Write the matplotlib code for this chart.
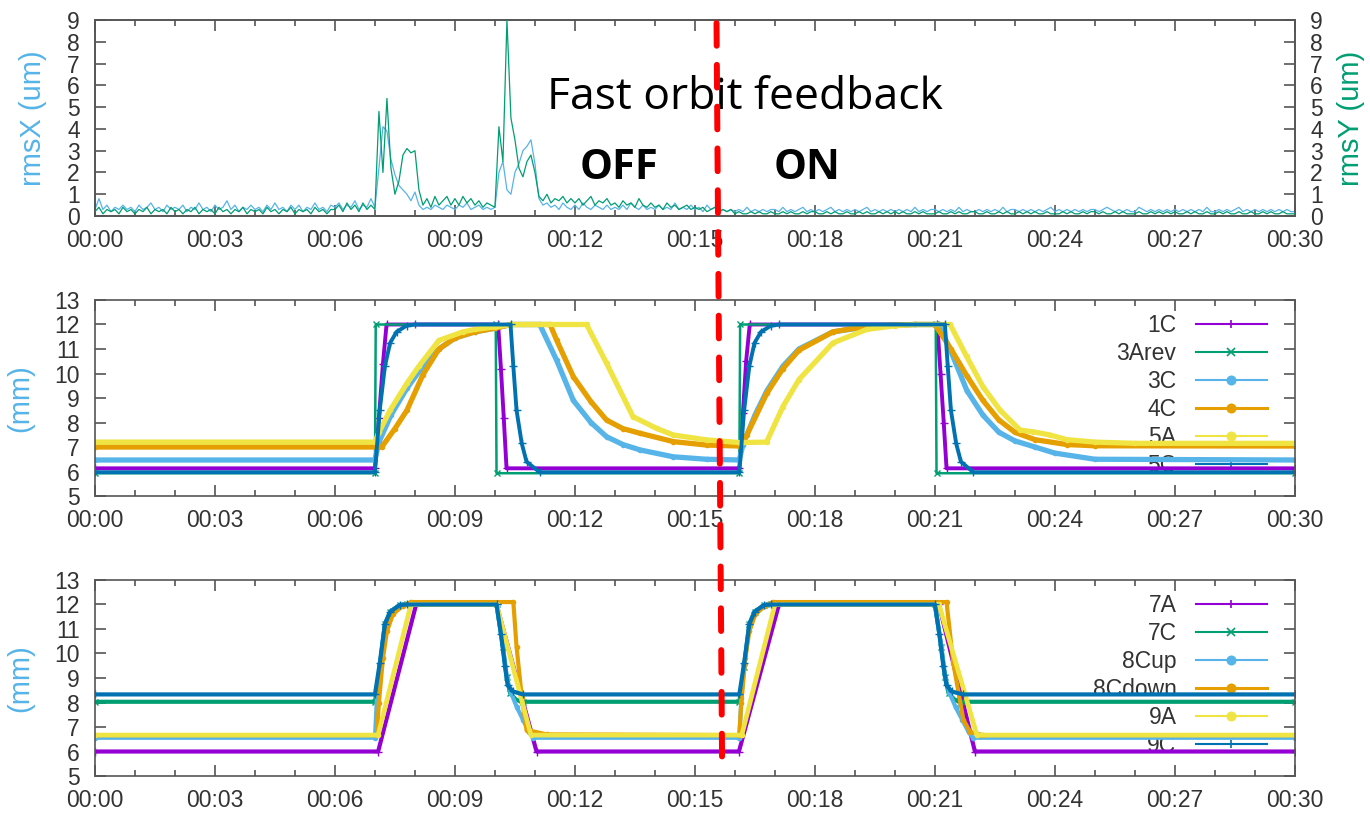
import matplotlib
matplotlib.use("Agg")
import matplotlib.pyplot as plt
from matplotlib.lines import Line2D
from matplotlib.patches import ConnectionPatch
from matplotlib.ticker import MultipleLocator, FuncFormatter

plt.rcParams["font.family"] = ["Liberation Sans", "DejaVu Sans"]

# --- beam position rms (um), sampled every 0.1 min ---
RMS_DT = 0.1
RMS_X = [
    0.3, 0.8, 0.3, 0.5, 0.2, 0.4, 0.3, 0.5, 0.3, 0.4,
    0.2, 0.5, 0.3, 0.4, 0.6, 0.3, 0.4, 0.2, 0.5, 0.3,
    0.4, 0.3, 0.5, 0.2, 0.4, 0.3, 0.6, 0.3, 0.4, 0.2,
    0.5, 0.3, 0.4, 0.7, 0.3, 0.5, 0.2, 0.4, 0.3, 0.5,
    0.3, 0.4, 0.2, 0.5, 0.3, 0.6, 0.3, 0.4, 0.2, 0.5,
    0.3, 0.5, 0.2, 0.4, 0.3, 0.6, 0.3, 0.4, 0.2, 0.5,
    0.4, 0.6, 0.3, 0.5, 0.4, 0.7, 0.3, 0.5, 0.4, 0.8,
    0.4, 2.2, 4.1, 3.9, 2.6, 1.9, 1.4, 1.2, 1.0, 0.7,
    1.1, 0.5, 0.3, 0.4, 0.3, 0.5, 0.4, 0.3, 0.5, 0.4,
    0.3, 0.5, 0.4, 0.6, 0.3, 0.4, 0.5, 0.3, 0.4, 0.3,
    0.4, 2.0, 2.5, 1.2, 1.0, 2.0, 2.4, 3.0, 3.2, 3.5,
    2.4, 0.8, 0.5, 0.6, 0.4, 0.5, 0.3, 0.6, 0.4, 0.3,
    0.5, 0.3, 0.6, 0.4, 0.3, 0.5, 0.4, 0.3, 0.5, 0.3,
    0.4, 0.3, 0.5, 0.3, 0.6, 0.4, 0.3, 0.5, 0.3, 0.4,
    0.3, 0.5, 0.3, 0.4, 0.3, 0.6, 0.3, 0.4, 0.3, 0.5,
    0.3, 0.4, 0.2, 0.5, 0.3, 0.4, 0.2, 0.3, 0.2, 0.3,
    0.2, 0.3, 0.2, 0.4, 0.2, 0.3, 0.2, 0.3, 0.2, 0.3,
    0.3, 0.2, 0.4, 0.2, 0.3, 0.2, 0.3, 0.4, 0.2, 0.3,
    0.2, 0.3, 0.2, 0.3, 0.4, 0.2, 0.3, 0.2, 0.3, 0.2,
    0.3, 0.2, 0.3, 0.4, 0.2, 0.3, 0.2, 0.3, 0.2, 0.3,
    0.2, 0.3, 0.2, 0.3, 0.2, 0.4, 0.2, 0.3, 0.2, 0.3,
    0.3, 0.2, 0.3, 0.2, 0.3, 0.2, 0.4, 0.2, 0.3, 0.2,
    0.2, 0.3, 0.2, 0.3, 0.2, 0.3, 0.2, 0.4, 0.2, 0.3,
    0.3, 0.2, 0.3, 0.2, 0.3, 0.2, 0.3, 0.2, 0.3, 0.4,
    0.2, 0.3, 0.2, 0.3, 0.2, 0.3, 0.2, 0.3, 0.2, 0.3,
    0.3, 0.2, 0.3, 0.4, 0.3, 0.2, 0.3, 0.2, 0.3, 0.2,
    0.2, 0.4, 0.3, 0.2, 0.3, 0.2, 0.3, 0.2, 0.3, 0.2,
    0.3, 0.2, 0.3, 0.2, 0.3, 0.2, 0.3, 0.2, 0.4, 0.2,
    0.2, 0.3, 0.2, 0.3, 0.2, 0.3, 0.4, 0.2, 0.3, 0.2,
    0.3, 0.2, 0.3, 0.2, 0.3, 0.2, 0.3, 0.2, 0.3, 0.2,
    0.2,
]
RMS_Y = [
    0.2, 0.4, 0.1, 0.3, 0.2, 0.3, 0.1, 0.4, 0.2, 0.3,
    0.1, 0.3, 0.2, 0.4, 0.1, 0.3, 0.2, 0.3, 0.1, 0.4,
    0.2, 0.3, 0.1, 0.3, 0.2, 0.4, 0.1, 0.3, 0.2, 0.3,
    0.1, 0.4, 0.2, 0.3, 0.1, 0.3, 0.2, 0.4, 0.1, 0.3,
    0.2, 0.3, 0.1, 0.4, 0.2, 0.3, 0.1, 0.3, 0.2, 0.4,
    0.1, 0.3, 0.2, 0.3, 0.1, 0.4, 0.2, 0.3, 0.1, 0.3,
    0.3, 0.5, 0.2, 0.6, 0.3, 0.5, 0.2, 0.6, 0.3, 0.5,
    0.3, 4.8, 2.0, 5.4, 2.2, 1.0, 1.6, 2.8, 3.1, 2.9,
    3.0, 1.2, 0.5, 0.8, 0.4, 0.9, 0.5, 0.7, 0.9, 0.5,
    0.8, 0.5, 0.9, 0.6, 0.8, 0.5, 0.7, 0.4, 0.6, 0.5,
    0.4, 4.1, 2.5, 9.0, 4.5, 3.5, 2.2, 1.8, 2.5, 2.8,
    2.0, 0.9, 0.7, 1.0, 0.6, 0.8, 0.7, 0.9, 0.6, 0.8,
    0.6, 0.8, 0.5, 0.7, 0.9, 0.5, 0.7, 0.6, 0.8, 0.5,
    0.6, 0.4, 0.7, 0.5, 0.6, 0.4, 0.8, 0.5, 0.4, 0.6,
    0.4, 0.5, 0.3, 0.6, 0.4, 0.5, 0.3, 0.4, 0.5, 0.3,
    0.4, 0.3, 0.4, 0.2, 0.3, 0.4, 0.2, 0.3, 0.2, 0.3,
    0.1, 0.2, 0.1, 0.1, 0.2, 0.1, 0.2, 0.1, 0.1, 0.2,
    0.1, 0.1, 0.2, 0.1, 0.2, 0.1, 0.1, 0.2, 0.1, 0.2,
    0.2, 0.1, 0.1, 0.2, 0.1, 0.2, 0.1, 0.1, 0.2, 0.1,
    0.1, 0.2, 0.1, 0.2, 0.1, 0.1, 0.2, 0.1, 0.2, 0.1,
    0.2, 0.1, 0.2, 0.1, 0.1, 0.2, 0.1, 0.2, 0.1, 0.1,
    0.1, 0.2, 0.1, 0.1, 0.2, 0.1, 0.2, 0.1, 0.1, 0.2,
    0.2, 0.1, 0.1, 0.2, 0.1, 0.1, 0.2, 0.1, 0.2, 0.1,
    0.1, 0.2, 0.1, 0.2, 0.1, 0.2, 0.1, 0.1, 0.2, 0.1,
    0.1, 0.1, 0.2, 0.1, 0.2, 0.1, 0.1, 0.2, 0.1, 0.2,
    0.2, 0.1, 0.2, 0.1, 0.1, 0.2, 0.1, 0.2, 0.1, 0.1,
    0.1, 0.2, 0.1, 0.1, 0.2, 0.1, 0.2, 0.1, 0.2, 0.1,
    0.2, 0.1, 0.1, 0.2, 0.1, 0.2, 0.1, 0.1, 0.2, 0.1,
    0.1, 0.2, 0.1, 0.2, 0.1, 0.1, 0.2, 0.1, 0.1, 0.2,
    0.1, 0.1, 0.2, 0.1, 0.2, 0.1, 0.1, 0.2, 0.1, 0.1,
    0.1,
]

# --- gap positions (mm), upstream group: time (min) / value ---
T_1C = [0, 7.0, 7.1, 7.2, 7.29, 10.08, 10.15, 10.22, 10.29, 16.11, 16.2, 16.28, 16.37,
        21.06, 21.14, 21.22, 21.29, 30]
V_1C = [6.13, 6.13, 8.2, 10.4, 12.0, 12.0, 10.2, 8.2, 6.13, 6.13, 8.4, 10.5, 12.0,
        12.0, 10.0, 8.0, 6.13, 6.13]
T_3AREV = [0, 7.0, 7.02, 10.02, 10.04, 16.11, 16.13, 21.02, 21.04, 30]
V_3AREV = [5.93, 5.93, 12.0, 12.0, 5.93, 5.93, 12.0, 12.0, 5.93, 5.93]
T_3C = [0, 7.0, 7.1, 7.4, 7.8, 8.2, 8.6, 9.0, 9.5, 10.0, 10.4, 11.12, 11.54, 11.96, 12.4,
        12.79, 13.2, 13.63, 14.46, 15.29, 16.11, 16.2, 16.5, 16.8, 17.2, 17.6, 18.45, 19.5,
        20.5, 21.1, 21.4, 21.8, 22.2, 22.6, 23.0, 23.5, 24.0, 25.0, 30]
V_3C = [6.47, 6.47, 7.2, 8.3, 9.4, 10.3, 11.0, 11.45, 11.7, 11.85, 12.0, 12.0, 10.55, 8.9,
        8.0, 7.42, 7.1, 6.88, 6.6, 6.5, 6.47, 7.1, 8.3, 9.3, 10.3, 11.0, 11.7, 11.95, 12.0,
        12.0, 10.9, 9.3, 8.3, 7.6, 7.25, 7.0, 6.75, 6.5, 6.47]
T_4C = [0, 7.17, 7.5, 7.8, 8.2, 8.6, 9.0, 9.5, 10.0, 10.4, 11.38, 11.54, 11.96, 12.4, 12.79,
        13.2, 13.63, 14.46, 15.29, 16.11, 16.3, 16.8, 17.2, 17.6, 18.45, 19.0, 19.5, 20.5,
        21.0, 21.4, 21.8, 22.2, 22.6, 23.0, 23.5, 24.3, 25.0, 30]
V_4C = [7.0, 7.0, 7.75, 8.5, 9.95, 11.0, 11.45, 11.7, 11.85, 12.0, 12.0, 11.37, 9.87, 8.85,
        8.1, 7.75, 7.56, 7.22, 7.08, 7.04, 7.5, 9.2, 10.2, 10.95, 11.7, 11.85, 11.95, 12.0,
        12.0, 11.0, 9.9, 8.9, 8.1, 7.6, 7.3, 7.1, 7.05, 7.04]
T_5A = [0, 7.0, 7.1, 7.38, 7.8, 8.1, 8.6, 9.2, 9.5, 10.0, 10.45, 12.29, 12.79, 13.45, 14.04,
        14.46, 15.29, 16.13, 16.79, 17.2, 17.6, 18.45, 19.3, 20.0, 20.5, 21.38, 21.79, 22.2,
        22.63, 23.13, 23.46, 23.88, 24.3, 25.0, 26.0, 30]
V_5A = [7.2, 7.2, 7.6, 8.5, 9.6, 10.3, 11.35, 11.7, 11.8, 11.9, 12.0, 12.0, 10.42, 8.24,
        7.76, 7.49, 7.29, 7.18, 7.2, 8.65, 9.75, 11.25, 11.8, 11.95, 12.0, 12.0, 10.7, 9.46,
        8.5, 7.69, 7.62, 7.49, 7.3, 7.2, 7.15, 7.15]
T_5C = [0, 7.0, 7.12, 7.25, 7.38, 7.54, 7.79, 8.0, 10.39, 10.46, 10.54, 10.67, 10.79, 11.12,
        16.11, 16.23, 16.36, 16.49, 16.65, 16.9, 17.1, 21.25, 21.32, 21.4, 21.53, 21.65,
        21.96, 30]
V_5C = [5.97, 5.97, 8.5, 10.3, 11.25, 11.7, 11.95, 12.0, 12.0, 10.3, 8.5, 7.15, 6.4, 5.97,
        5.97, 8.5, 10.3, 11.25, 11.7, 11.95, 12.0, 12.0, 10.3, 8.5, 7.15, 6.4, 5.97, 5.97]

# --- gap positions (mm), downstream group ---
T_7A = [0, 7.08, 8.03, 10.04, 11.04, 16.1, 17.1, 21.1, 22.0, 30]
V_7A = [6.0, 6.0, 12.0, 12.0, 6.0, 6.0, 12.0, 12.0, 6.0, 6.0]
T_7C = [0, 7.0, 7.12, 7.25, 7.38, 7.62, 7.8, 10.04, 10.2, 10.29, 10.38, 10.54, 10.7, 16.11,
        16.23, 16.36, 16.49, 16.73, 16.9, 21.0, 21.16, 21.25, 21.34, 21.5, 21.66, 30]
V_7C = [8.03, 8.03, 9.46, 11.2, 11.7, 11.98, 12.0, 12.0, 10.28, 9.05, 8.38, 8.1, 8.03, 8.03,
        9.46, 11.2, 11.7, 11.98, 12.0, 12.0, 10.28, 9.05, 8.38, 8.1, 8.03, 8.03]
T_8CUP = [0, 7.0, 7.05, 7.12, 7.25, 7.38, 7.62, 7.8, 10.04, 10.2, 10.3, 10.4, 10.55, 10.7,
          10.85, 10.96, 16.11, 16.16, 16.23, 16.36, 16.49, 16.73, 16.9, 21.0, 21.16, 21.26,
          21.36, 21.52, 21.68, 21.84, 21.95, 30]
V_8CUP = [6.56, 6.56, 8.2, 9.5, 11.2, 11.7, 11.98, 12.0, 12.0, 10.3, 9.0, 8.4, 7.8, 7.3,
          6.8, 6.56, 6.56, 8.2, 9.5, 11.2, 11.7, 11.98, 12.0, 12.0, 10.3, 9.0, 8.4, 7.8,
          7.3, 6.8, 6.56, 6.56]
T_8CDOWN = [0, 7.05, 7.1, 7.2, 7.3, 7.45, 7.7, 7.9, 10.46, 10.54, 10.67, 10.79, 11.29,
            16.11, 16.16, 16.26, 16.36, 16.51, 16.76, 16.96, 21.29, 21.46, 21.71, 21.88,
            22.2, 30]
V_8CDOWN = [6.67, 6.67, 8.0, 9.8, 10.9, 11.6, 11.95, 12.1, 12.1, 10.28, 8.24, 6.88, 6.7,
            6.67, 8.0, 9.8, 10.9, 11.6, 11.95, 12.1, 12.1, 9.6, 7.3, 6.8, 6.67, 6.67]
T_9A = [0, 7.08, 7.9, 10.04, 10.9, 16.17, 17.0, 21.1, 22.05, 30]
V_9A = [6.67, 6.67, 12.0, 12.0, 6.67, 6.67, 12.0, 12.0, 6.67, 6.67]
T_9C = [0, 7.0, 7.12, 7.25, 7.38, 7.62, 7.8, 10.04, 10.15, 10.25, 10.32, 10.45, 10.7, 16.11,
        16.23, 16.36, 16.49, 16.73, 16.9, 21.0, 21.11, 21.21, 21.29, 21.42, 21.7, 30]
V_9C = [8.33, 8.33, 9.6, 11.2, 11.7, 11.98, 12.0, 12.0, 10.8, 9.5, 8.7, 8.45, 8.33, 8.33,
        9.6, 11.2, 11.7, 11.98, 12.0, 12.0, 10.8, 9.5, 8.7, 8.45, 8.33, 8.33]

# feedback switch marker: (time, value) at top panel and bottom panel ends
FOFB_TOP = (15.54, 8.86)
FOFB_BOTTOM = (15.68, 5.33)

PURPLE = "#9400d3"
GREEN = "#009e73"
SKY = "#56b4e9"
ORANGE = "#e69f00"
YELLOW = "#f0e442"
BLUE = "#0072b2"
TICK_COLOR = "#333333"
FRAME_COLOR = "#555555"
NOTE_FONT = ["Open Sans", "Noto Sans", "DejaVu Sans"]


def fmt_time(v, _pos):
    m = int(round(v))
    return f"{m // 60:02d}:{m % 60:02d}"


def style_axis(ax, ymin, ymax):
    ax.set_xlim(0, 30)
    ax.set_ylim(ymin, ymax)
    ax.xaxis.set_major_locator(MultipleLocator(3))
    ax.xaxis.set_minor_locator(MultipleLocator(1))
    ax.yaxis.set_major_locator(MultipleLocator(1))
    ax.xaxis.set_major_formatter(FuncFormatter(fmt_time))
    ax.tick_params(which="both", direction="in", top=True, right=True,
                   colors=FRAME_COLOR, labelcolor=TICK_COLOR, labelsize=16.5, width=1.2)
    ax.tick_params(which="major", length=8)
    ax.tick_params(which="minor", length=4)
    ax.tick_params(axis="x", pad=9)
    ax.tick_params(axis="y", pad=11)
    for sp in ax.spines.values():
        sp.set_color(FRAME_COLOR)
        sp.set_linewidth(1.2)


def legend_handle(color, marker, lw=1.5, ms=6):
    return Line2D([], [], color=color, lw=lw, marker=marker, ms=ms, mew=1.2)


def add_legend(ax, handles, labels):
    leg = ax.legend(handles, labels, loc="upper right", bbox_to_anchor=(0.9767, 0.93),
                    frameon=False, markerfirst=False, handlelength=3.1, handletextpad=0.85,
                    labelspacing=0.22, borderpad=0, borderaxespad=0, fontsize=16.5,
                    numpoints=1)
    for txt in leg.get_texts():
        txt.set_color(TICK_COLOR)
    leg.set_zorder(1)
    return leg


fig = plt.figure(figsize=(13.7, 8.13), dpi=100)
fig.patch.set_facecolor("white")

ax1 = fig.add_axes([0.0693, 0.7343, 0.8759, 0.2411])
ax2 = fig.add_axes([0.0693, 0.3899, 0.8759, 0.2411])
ax3 = fig.add_axes([0.0693, 0.0455, 0.8759, 0.2411])

# top: rms orbit motion
rms_t = [i * RMS_DT for i in range(len(RMS_X))]
ax1.plot(rms_t, RMS_X, color=SKY, lw=0.9, zorder=2)
ax1r = ax1.twinx()
ax1r.plot(rms_t, RMS_Y, color=GREEN, lw=0.9, zorder=3)
style_axis(ax1, 0, 9)
style_axis(ax1r, 0, 9)
ax1.tick_params(right=False)
ax1r.tick_params(left=False, top=False, bottom=False, labelbottom=False)
ax1.set_ylabel("rmsX (um)", color=SKY, fontsize=21, labelpad=14)
ax1r.set_ylabel("rmsY (um)", color=GREEN, fontsize=21, labelpad=10)

ax1r.text(16.25, 5.45, "Fast orbit feedback", ha="center", va="center",
          fontsize=32, family=NOTE_FONT, color="black", zorder=5)
ax1r.text(13.1, 2.2, "OFF", ha="center", va="center", fontsize=30, fontweight="bold",
          family=NOTE_FONT, color="black", zorder=5)
ax1r.text(17.8, 2.2, "ON", ha="center", va="center", fontsize=30, fontweight="bold",
          family=NOTE_FONT, color="black", zorder=5)

# middle: upstream gaps
mid_series = [
    ("1C", T_1C, V_1C, PURPLE, "+", 2.8, 6),
    ("3Arev", T_3AREV, V_3AREV, GREEN, "x", 1.8, 4),
    ("3C", T_3C, V_3C, SKY, "o", 3.8, 3),
    ("4C", T_4C, V_4C, ORANGE, "o", 3.8, 3),
    ("5A", T_5A, V_5A, YELLOW, "o", 3.8, 3),
    ("5C", T_5C, V_5C, BLUE, "+", 2.8, 6),
]
for label, t, v, c, mk, lw, ms in mid_series:
    ax2.plot(t, v, color=c, lw=lw, marker=mk, ms=ms, mew=1.0, zorder=2)
style_axis(ax2, 5, 13)
ax2.set_ylabel("(mm)", color=SKY, fontsize=21, labelpad=14)
add_legend(ax2, [legend_handle(c, mk, lw=2.2 if label == "4C" else 1.5)
                 for label, _, _, c, mk, _, _ in mid_series],
           [s[0] for s in mid_series])

# bottom: downstream gaps
bot_series = [
    ("7A", T_7A, V_7A, PURPLE, "+", 3.0, 6),
    ("7C", T_7C, V_7C, GREEN, "x", 3.0, 4),
    ("8Cup", T_8CUP, V_8CUP, SKY, "o", 3.0, 3),
    ("8Cdown", T_8CDOWN, V_8CDOWN, ORANGE, "o", 3.0, 3),
    ("9A", T_9A, V_9A, YELLOW, "o", 3.4, 3),
    ("9C", T_9C, V_9C, BLUE, "+", 3.0, 6),
]
for label, t, v, c, mk, lw, ms in bot_series:
    ax3.plot(t, v, color=c, lw=lw, marker=mk, ms=ms, mew=1.0, zorder=2)
style_axis(ax3, 5, 13)
ax3.set_ylabel("(mm)", color=SKY, fontsize=21, labelpad=14)
add_legend(ax3, [legend_handle(c, mk, lw=2.2 if label == "8Cdown" else 1.5)
                 for label, _, _, c, mk, _, _ in bot_series],
           [s[0] for s in bot_series])

# switch-over of the orbit feedback, spanning all three panels
con = ConnectionPatch(xyA=FOFB_TOP, coordsA=ax1.transData,
                      xyB=FOFB_BOTTOM, coordsB=ax3.transData,
                      color="#ff0000", lw=4.3, linestyle=(0, (3.8, 3.2)), zorder=20)
fig.add_artist(con)

fig.savefig("out.png", dpi=100, facecolor="white")
